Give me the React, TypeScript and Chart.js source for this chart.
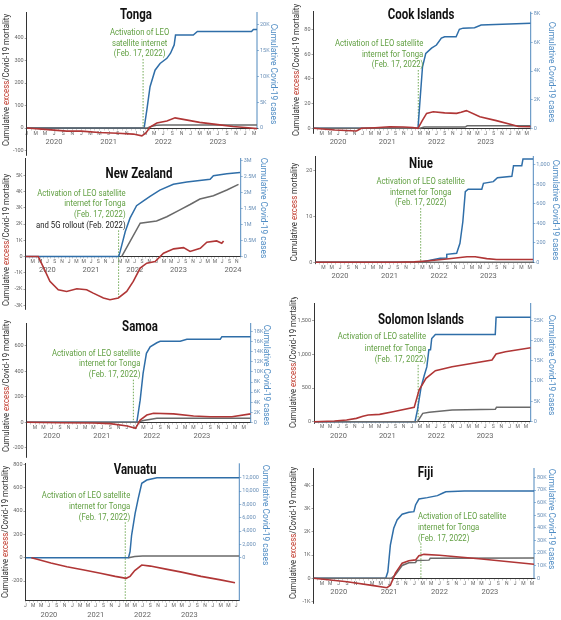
import { useEffect, useRef } from 'react'
import { Chart, registerables } from 'chart.js'

Chart.register(...registerables)
Chart.defaults.font.family = 'Roboto'

type Pt = [number, number]
type Seg = { text: string; color: string }

// month index: 0 = Jan 2020
const LEO_MONTH = 25.57 // Feb. 17, 2022
const MONTH_LETTERS = ['J', 'F', 'M', 'A', 'M', 'J', 'J', 'A', 'S', 'O', 'N', 'D']
const YEARS = ['2020', '2021', '2022', '2023', '2024']
const YEAR_MONTHS = [6, 18, 30, 42]
const YEAR_MONTHS_NZ = [6, 18, 30, 42, 57]

const NOTE_LINES = ['Activation of LEO satellite', 'internet for Tonga', '(Feb. 17, 2022)']
const NOTE_LINES_TONGA = ['Activation of LEO', 'satellite internet', '(Feb. 17, 2022)']
const NOTE_5G = 'and 5G rollout (Feb. 2022)'

// ---- Tonga
const tongaExcess: Pt[] = [[0, 0], [4, -6], [8.8, -14], [12, -14], [15.9, -20], [20, -23], [23.4, -27], [25.3, -35], [26.2, -22], [27.1, 4], [28.6, 22], [30.8, 31], [32.6, 45], [35, 36], [38, 25], [42, 15], [45.3, 7], [48, 2], [50.6, -3]]
const tongaDeaths: Pt[] = [[0, 0], [26.5, 0], [27.5, 8], [28.5, 12], [30, 13], [50.6, 13]]
const tongaCases: Pt[] = [[0, 0], [25.8, 0], [26.4, 3500], [27.1, 8000], [28.2, 11200], [29.3, 12500], [30.8, 13500], [31.6, 14500], [32.4, 16100], [32.7, 18000], [36.6, 18000], [37.5, 18700], [49.4, 18700], [49.8, 19100], [50.6, 19100]]
const tongaLeftTicks = [-100, 0, 100, 200, 300, 400]
const tongaRightTicks = [0, 5000, 10000, 15000, 20000]

// ---- Cook Islands
const cookExcess: Pt[] = [[0, 0], [5.2, -1.4], [10.5, -2.2], [11.7, 0], [15, 0.5], [18.6, 1.3], [22, 1], [24.2, 0.6], [25.5, 0], [26.5, 6], [27.6, 12.1], [29.2, 13.4], [32, 12.5], [34.9, 12.1], [36, 13], [37.3, 14.3], [40.6, 9.4], [44.6, 6.2], [48.7, 2.7], [50, 1.5], [53, 1.3]]
const cookDeaths: Pt[] = [[0, 0], [26, 0], [27, 1], [37, 1], [37.5, 2], [53, 2]]
const cookCases: Pt[] = [[0, 0], [25.5, 0], [26, 1980], [26.6, 4300], [27.4, 5240], [28.8, 5600], [30, 5820], [31.2, 6300], [32, 6400], [34.8, 6400], [35.6, 6920], [36.5, 7000], [39.3, 7030], [40.9, 7220], [53, 7340]]
const cookLeftTicks = [0, 20, 40, 60, 80]
const cookRightTicks = [0, 2000, 4000, 6000, 8000]

// ---- New Zealand
const nzExcess: Pt[] = [[0, 0], [3.5, 0], [5, -700], [6.7, -1530], [9, -2040], [11.3, -2150], [14.1, -1980], [16.8, -2040], [18.6, -2250], [21.4, -2550], [23.2, -2660], [25.5, -2550], [27.8, -2150], [29.6, -1530], [31.5, -710], [33.3, -410], [35.6, -310], [37.9, 200], [40.7, 470], [43.4, 550], [45.2, 310], [48, 510], [49.8, 880], [52.5, 960], [53.9, 820], [54.4, 960]]
const nzDeaths: Pt[] = [[26.4, 0], [31.5, 2050], [36, 2190], [38.8, 2450], [42.4, 2870], [45.2, 3200], [47.9, 3540], [51.6, 3740], [55.3, 4090], [58.5, 4440]]
const nzCases: Pt[] = [[0, 0], [25.6, 0], [26, 160000], [27.4, 780000], [28.7, 1200000], [30.5, 1590000], [32.4, 1740000], [34.2, 1880000], [36.9, 2080000], [40.6, 2260000], [44.3, 2330000], [50.7, 2420000], [51.6, 2530000], [55.3, 2590000], [58.9, 2630000]]
const nzLeftTicks = [-3000, -2000, -1000, 0, 1000, 2000, 3000, 4000, 5000]
const nzRightTicks = [0, 500000, 1000000, 1500000, 2000000, 2500000, 3000000]

// ---- Niue
const niueExcess: Pt[] = [[0, 0], [20, 0], [24, 0.1], [27, 0.3], [31.9, 0.72], [36.8, 1.2], [38.8, 1.2], [41.6, 0.8], [44, 0.6], [52.9, 0.6]]
const niueDeaths: Pt[] = [[0, 0], [52.9, 0]]
const niueCases: Pt[] = [[0, 0], [25.5, 0], [27, 13], [30.3, 41], [31.8, 45], [31.9, 82], [34.3, 92], [35.1, 195], [35.8, 416], [36.4, 724], [37.1, 749], [40.4, 749], [40.8, 810], [43.2, 827], [44.2, 868], [47.7, 882], [48.1, 991], [50.1, 991], [50.4, 1060], [52.9, 1060]]
const niueLeftTicks = [0, 10, 20]
const niueRightTicks = [0, 200, 400, 600, 800, 1000]

// ---- Samoa
const samoaExcess: Pt[] = [[0, 0], [8, -3], [16, -5], [20, -10], [24.1, -29], [26.1, -47], [27.2, 18], [28.8, 57], [30.4, 71], [35.2, 66], [40, 50], [44, 44], [49.2, 44], [53.7, 66]]
const samoaDeaths: Pt[] = [[0, 0], [26.5, 0], [28, 15], [31.2, 31], [53.7, 31]]
const samoaCases: Pt[] = [[0, 0], [26.4, 0], [27.2, 4400], [27.9, 9700], [28.7, 13700], [29.6, 15000], [31.2, 15800], [32, 16100], [36.8, 16100], [38.4, 16500], [46.4, 16500], [46.8, 17000], [53.7, 17000]]
const samoaLeftTicks = [-200, 0, 200, 400, 600]
const samoaRightTicks = [0, 2000, 4000, 6000, 8000, 10000, 12000, 14000, 16000, 18000]

// ---- Solomon Islands
const solExcess: Pt[] = [[0, 0], [5, 10], [8, 25], [10.4, 50], [12, 80], [13.3, 99], [16.1, 109], [19.4, 148], [24.6, 213], [25.8, 470], [27.5, 644], [29.8, 757], [33.9, 816], [43.7, 915], [44.7, 1004], [47, 1039], [53.2, 1098]]
const solDeaths: Pt[] = [[0, 0], [25.4, 0], [26.7, 124], [28.3, 139], [33.9, 174], [44.5, 184], [44.8, 213], [53.2, 213]]
const solCases: Pt[] = [[0, 0], [24.8, 0], [25.4, 2900], [26.3, 8600], [27.1, 11500], [27.7, 13500], [28.2, 17700], [28.6, 17700], [28.9, 20500], [29.8, 21500], [44.5, 21500], [44.7, 25700], [53.2, 25700]]
const solLeftTicks = [0, 500, 1000, 1500]
const solRightTicks = [0, 5000, 10000, 15000, 20000, 25000]

// ---- Vanuatu
const vanExcess: Pt[] = [[1.5, 0], [3, -14], [6.5, -45], [10.6, -77], [15, -106], [19.2, -134], [23, -160], [25.8, -177], [26.8, -160], [28, -110], [29.8, -63], [32, -72], [36, -98], [40, -124], [45, -160], [50, -190], [53.7, -215]]
const vanDeaths: Pt[] = [[26.4, 0], [28, 10], [30, 14], [54.8, 14]]
const vanCases: Pt[] = [[0, 0], [26.4, 0], [26.8, 900], [27.2, 3400], [28.1, 6660], [28.9, 8900], [29.8, 11160], [31.1, 11650], [33.7, 12000], [54.8, 12000]]
const vanLeftTicks = [-200, 0, 200, 400, 600, 800]
const vanRightTicks = [0, 2000, 4000, 6000, 8000, 10000, 12000]

// ---- Fiji
const fijiExcess: Pt[] = [[0, 0], [8, -150], [14.3, -320], [17.5, -410], [18.3, -300], [19.5, 220], [21.1, 650], [22.7, 750], [24.3, 790], [25.1, 970], [26.3, 1030], [30, 990], [40, 830], [52.5, 600]]
const fijiDeaths: Pt[] = [[0, 0], [18.5, 0], [19.5, 150], [21.1, 550], [22.7, 670], [24.3, 680], [24.6, 760], [27.5, 780], [27.8, 860], [52.5, 870]]
const fijiCases: Pt[] = [[0, 0], [17.2, 0], [17.7, 5200], [18.3, 26400], [19.1, 39700], [19.9, 46300], [21.1, 50800], [22.7, 52400], [23.9, 52900], [24.3, 58200], [25.1, 62900], [27.1, 64000], [29.5, 65600], [30.7, 67500], [31.5, 68700], [35.9, 69200], [52.5, 69200]]
const fijiLeftTicks = [-1000, 0, 1000, 2000, 3000, 4000]
const fijiRightTicks = [0, 10000, 20000, 30000, 40000, 50000, 60000, 70000, 80000]

const RED = '#b03636'
const RED_TEXT = '#c0392b'
const GRAY = '#6a6a6a'
const BLUE = '#2f6ea8'
const BLUE_AXIS = '#4f88bd'
const BLUE_TEXT = '#4f8cc4'
const GREEN = '#62a043'
const DARK = '#333'

const plain = (v: number) => String(v)
const comma = (v: number) => v.toLocaleString('en-US')
const kilo = (v: number) => (v === 0 ? '0' : `${v / 1000}K`)
const mega = (v: number) => (v === 0 ? '0' : `${v / 1e6}M`)

const mortalitySegs: Seg[] = [
  { text: 'Cumulative ', color: DARK },
  { text: 'excess', color: RED_TEXT },
  { text: '/Covid-19 mortality', color: DARK }
]
const excessSegs: Seg[] = [
  { text: 'Cumulative ', color: DARK },
  { text: 'excess', color: RED_TEXT },
  { text: ' mortality', color: DARK }
]

interface Note {
  lines: string[]
  extra?: string
  align: CanvasTextAlign
  dx: number
  y: number
  lh: number
}

interface Panel {
  name: string
  box: [number, number, number, number]
  area: [number, number, number, number]
  xMax: number
  yRange: [number, number]
  y2Range: [number, number]
  leftTicks: number[]
  rightTicks: number[]
  leftFmt: (v: number) => string
  rightFmt: (v: number) => string
  excess: Pt[]
  deaths: Pt[]
  cases: Pt[]
  firstLabel: number
  yearAt: number[]
  axisAt: number
  dashEnd: number
  fullRight: boolean
  title: [number, number]
  leftTitle: [number, number]
  rightTitle: [number, number]
  leftSegs: Seg[]
  note: Note
}

const panels: Panel[] = [
  {
    name: 'Tonga', box: [0, 0, 280, 162], area: [26.7, 12, 257, 155],
    xMax: 50.6, yRange: [-120, 515.6], y2Range: [-5230, 22480],
    leftTicks: tongaLeftTicks, rightTicks: tongaRightTicks, leftFmt: plain, rightFmt: kilo,
    excess: tongaExcess, deaths: tongaDeaths, cases: tongaCases,
    firstLabel: 0, yearAt: YEAR_MONTHS, axisAt: 0, dashEnd: 0, fullRight: false,
    title: [136, 15], leftTitle: [6.5, 80], rightTitle: [273, 74], leftSegs: mortalitySegs,
    note: { lines: NOTE_LINES_TONGA, align: 'center', dx: -3.5, y: 33, lh: 10.5 }
  },
  {
    name: 'Cook Islands', box: [280, 0, 281, 150], area: [313.5, 11.7, 530.7, 133],
    xMax: 53, yRange: [-3.8, 94.4], y2Range: [-330, 8150],
    leftTicks: cookLeftTicks, rightTicks: cookRightTicks, leftFmt: plain, rightFmt: kilo,
    excess: cookExcess, deaths: cookDeaths, cases: cookCases,
    firstLabel: 2, yearAt: YEAR_MONTHS, axisAt: 0, dashEnd: 0, fullRight: false,
    title: [421, 15], leftTitle: [296.5, 70], rightTitle: [551, 72], leftSegs: mortalitySegs,
    note: { lines: NOTE_LINES, align: 'right', dx: 5, y: 44, lh: 10.5 }
  },
  {
    name: 'New Zealand', box: [0, 152, 280, 162], area: [25.5, 158, 240.7, 310],
    xMax: 59.1, yRange: [-3270, 6060], y2Range: [-1666000, 3084000],
    leftTicks: nzLeftTicks, rightTicks: nzRightTicks, leftFmt: kilo, rightFmt: mega,
    excess: nzExcess, deaths: nzDeaths, cases: nzCases,
    firstLabel: 2, yearAt: YEAR_MONTHS_NZ, axisAt: 0, dashEnd: -2500, fullRight: false,
    title: [139, 174], leftTitle: [6.5, 240], rightTitle: [263.5, 208], leftSegs: mortalitySegs,
    note: { lines: NOTE_LINES, extra: NOTE_5G, align: 'right', dx: 7, y: 193.3, lh: 10.7 }
  },
  {
    name: 'Niue', box: [280, 150, 281, 135], area: [315.3, 156, 533.3, 263.5],
    xMax: 52.9, yRange: [-0.26, 23.2], y2Range: [-12, 1090],
    leftTicks: niueLeftTicks, rightTicks: niueRightTicks, leftFmt: plain, rightFmt: comma,
    excess: niueExcess, deaths: niueDeaths, cases: niueCases,
    firstLabel: 2, yearAt: YEAR_MONTHS, axisAt: 0, dashEnd: 0, fullRight: false,
    title: [421, 164.5], leftTitle: [295, 212], rightTitle: [555, 210], leftSegs: excessSegs,
    note: { lines: NOTE_LINES, align: 'center', dx: 0, y: 181.7, lh: 10.7 }
  },
  {
    name: 'Samoa', box: [0, 316, 280, 146], area: [26.7, 323, 250.7, 457],
    xMax: 53.7, yRange: [-272, 779], y2Range: [-6890, 19720],
    leftTicks: samoaLeftTicks, rightTicks: samoaRightTicks, leftFmt: plain, rightFmt: kilo,
    excess: samoaExcess, deaths: samoaDeaths, cases: samoaCases,
    firstLabel: 2, yearAt: YEAR_MONTHS, axisAt: 0, dashEnd: 0, fullRight: false,
    title: [140, 327], leftTitle: [6.5, 386], rightTitle: [266.5, 375], leftSegs: mortalitySegs,
    note: { lines: NOTE_LINES, align: 'right', dx: 7, y: 353.3, lh: 10.7 }
  },
  {
    name: 'Solomon Islands', box: [280, 297, 281, 148], area: [314, 303, 530.7, 423],
    xMax: 53.2, yRange: [-19, 1761], y2Range: [-320, 29240],
    leftTicks: solLeftTicks, rightTicks: solRightTicks, leftFmt: comma, rightFmt: kilo,
    excess: solExcess, deaths: solDeaths, cases: solCases,
    firstLabel: 2, yearAt: YEAR_MONTHS, axisAt: 0, dashEnd: 0, fullRight: false,
    title: [421, 320], leftTitle: [293.5, 362], rightTitle: [551.5, 365], leftSegs: mortalitySegs,
    note: { lines: NOTE_LINES, align: 'right', dx: 8, y: 336.7, lh: 11.6 }
  },
  {
    name: 'Vanuatu', box: [0, 457, 280, 163], area: [25.5, 463.3, 239.3, 600.7],
    xMax: 54.8, yRange: [-369, 810], y2Range: [-6450, 14163],
    leftTicks: vanLeftTicks, rightTicks: vanRightTicks, leftFmt: plain, rightFmt: comma,
    excess: vanExcess, deaths: vanDeaths, cases: vanCases,
    firstLabel: 0, yearAt: YEAR_MONTHS, axisAt: -369, dashEnd: -369, fullRight: true,
    title: [135, 470], leftTitle: [6, 532], rightTitle: [265, 515], leftSegs: mortalitySegs,
    note: { lines: NOTE_LINES, align: 'right', dx: 5, y: 495.7, lh: 10.8 }
  },
  {
    name: 'Fiji', box: [280, 460, 281, 160], area: [313.5, 468, 534, 603.3],
    xMax: 52.5, yRange: [-1080, 4750], y2Range: [-19800, 87500],
    leftTicks: fijiLeftTicks, rightTicks: fijiRightTicks, leftFmt: kilo, rightFmt: kilo,
    excess: fijiExcess, deaths: fijiDeaths, cases: fijiCases,
    firstLabel: 2, yearAt: YEAR_MONTHS, axisAt: 0, dashEnd: 0, fullRight: false,
    title: [425.5, 473], leftTitle: [293.5, 533], rightTitle: [551.5, 519], leftSegs: mortalitySegs,
    note: { lines: NOTE_LINES, align: 'left', dx: -3, y: 516.7, lh: 10.8 }
  }
]

const toXY = (pts: Pt[]) => pts.map(([x, y]) => ({ x, y }))

function drawText(ctx: CanvasRenderingContext2D, text: string, x: number, y: number, font: string, color: string, align: CanvasTextAlign, sx: number) {
  ctx.save()
  ctx.translate(x, y)
  ctx.scale(sx, 1)
  ctx.font = font
  ctx.fillStyle = color
  ctx.textAlign = align
  ctx.textBaseline = 'middle'
  ctx.fillText(text, 0, 0)
  ctx.restore()
}

function drawRotated(ctx: CanvasRenderingContext2D, segs: Seg[], x: number, y: number, angle: number, font: string, sx: number) {
  ctx.save()
  ctx.translate(x, y)
  ctx.rotate(angle)
  ctx.scale(sx, 1)
  ctx.font = font
  ctx.textBaseline = 'middle'
  ctx.textAlign = 'left'
  const total = segs.reduce((s, g) => s + ctx.measureText(g.text).width, 0)
  let cur = -total / 2
  for (const g of segs) {
    ctx.fillStyle = g.color
    ctx.fillText(g.text, cur, 0)
    cur += ctx.measureText(g.text).width
  }
  ctx.restore()
}

function decor(p: Panel) {
  const [cx, cy] = p.box
  return {
    id: 'panelDecor',
    beforeDatasetsDraw(chart: Chart) {
      const { ctx, chartArea } = chart
      const xs = chart.scales.x
      const ys = chart.scales.y
      ctx.save()
      ctx.strokeStyle = BLUE_AXIS
      ctx.lineWidth = 1
      ctx.beginPath()
      ctx.moveTo(chartArea.right, chartArea.top)
      ctx.lineTo(chartArea.right, p.fullRight ? chartArea.bottom : ys.getPixelForValue(0))
      ctx.stroke()

      const lx = xs.getPixelForValue(LEO_MONTH)
      const count = p.note.lines.length + (p.note.extra ? 1 : 0)
      const lastY = p.note.y - cy + p.note.lh * (count - 1)
      ctx.strokeStyle = GREEN
      ctx.lineWidth = 0.9
      ctx.setLineDash([1.5, 1.5])
      ctx.beginPath()
      ctx.moveTo(lx, lastY + 5)
      ctx.lineTo(lx, ys.getPixelForValue(p.dashEnd))
      ctx.stroke()
      ctx.restore()
    },
    afterDraw(chart: Chart) {
      const ctx = chart.ctx
      const lx = chart.scales.x.getPixelForValue(LEO_MONTH)
      drawText(ctx, p.name, p.title[0] - cx, p.title[1] - cy, 'bold 14px Roboto', '#111', 'center', 0.82)
      const nx = lx + p.note.dx
      p.note.lines.forEach((line, i) => {
        drawText(ctx, line, nx, p.note.y - cy + i * p.note.lh, '9px Roboto', GREEN, p.note.align, 0.86)
      })
      if (p.note.extra) {
        drawText(ctx, p.note.extra, nx, p.note.y - cy + p.note.lines.length * p.note.lh, '9px Roboto', '#222', p.note.align, 0.86)
      }
      drawRotated(ctx, p.leftSegs, p.leftTitle[0] - cx, p.leftTitle[1] - cy, -Math.PI / 2, '9px Roboto', 0.87)
      drawRotated(ctx, [{ text: 'Cumulative Covid-19 cases', color: BLUE_TEXT }], p.rightTitle[0] - cx, p.rightTitle[1] - cy, Math.PI / 2, '9px Roboto', 0.93)
    }
  }
}

function PanelChart({ p }: { p: Panel }) {
  const ref = useRef<HTMLCanvasElement>(null)

  useEffect(() => {
    if (!ref.current) return
    const [cx, cy, cw, ch] = p.box
    const [L, T, R, B] = p.area
    const leftW = L - cx
    const rightW = cx + cw - R
    const months = Array.from({ length: Math.floor(p.xMax) + 1 }, (_, i) => i)

    const chart = new Chart(ref.current, {
      type: 'line',
      data: {
        datasets: [
          { data: toXY(p.excess), borderColor: RED, borderWidth: 1.6, yAxisID: 'y' },
          { data: toXY(p.deaths), borderColor: GRAY, borderWidth: 1.5, yAxisID: 'y' },
          { data: toXY(p.cases), borderColor: BLUE, borderWidth: 1.5, yAxisID: 'y2' }
        ]
      },
      options: {
        animation: false,
        responsive: false,
        events: [],
        layout: { padding: { top: T - cy, bottom: cy + ch - B, left: 0, right: 0 } },
        elements: { point: { radius: 0 }, line: { tension: 0 } },
        plugins: { legend: { display: false }, tooltip: { enabled: false } },
        scales: {
          x: {
            type: 'linear',
            min: 0,
            max: p.xMax,
            position: { y: p.axisAt },
            afterBuildTicks: (s: any) => { s.ticks = months.map(v => ({ value: v })) },
            afterFit: (s: any) => { s.height = 0 },
            ticks: {
              autoSkip: false,
              maxRotation: 0,
              padding: 1,
              color: '#666',
              font: { size: 5 },
              callback: (v: any) => (v % 2 === 0 && v >= p.firstLabel ? MONTH_LETTERS[v % 12] : '')
            },
            grid: { display: true, drawOnChartArea: false, drawTicks: true, tickLength: 1.5, color: '#999', lineWidth: 0.5 },
            border: { display: true, color: DARK, width: 1 }
          },
          x2: {
            type: 'linear',
            axis: 'x',
            min: 0,
            max: p.xMax,
            position: { y: p.axisAt },
            afterBuildTicks: (s: any) => { s.ticks = p.yearAt.map(v => ({ value: v })) },
            afterFit: (s: any) => { s.height = 0 },
            ticks: {
              autoSkip: false,
              maxRotation: 0,
              padding: 9.5,
              color: '#666',
              font: { size: 7.5 },
              callback: (_v: any, i: number) => YEARS[i]
            },
            grid: { display: false, drawTicks: false },
            border: { display: false }
          },
          y: {
            type: 'linear',
            position: 'left',
            min: p.yRange[0],
            max: p.yRange[1],
            afterBuildTicks: (s: any) => { s.ticks = p.leftTicks.map(v => ({ value: v })) },
            afterFit: (s: any) => { s.width = leftW },
            ticks: { padding: 1, color: '#666', font: { size: 5.5 }, callback: (v: any) => p.leftFmt(v) },
            grid: { drawOnChartArea: false, drawTicks: true, tickLength: 2, color: '#666', lineWidth: 0.6 },
            border: { display: true, color: DARK, width: 1 }
          },
          y2: {
            type: 'linear',
            position: 'right',
            min: p.y2Range[0],
            max: p.y2Range[1],
            afterBuildTicks: (s: any) => { s.ticks = p.rightTicks.map(v => ({ value: v })) },
            afterFit: (s: any) => { s.width = rightW },
            ticks: { padding: 1, color: '#6a90b8', font: { size: 5.5 }, callback: (v: any) => p.rightFmt(v) },
            grid: { drawOnChartArea: false, drawTicks: true, tickLength: 2, color: BLUE_AXIS, lineWidth: 0.6 },
            border: { display: false }
          }
        }
      } as any,
      plugins: [decor(p)]
    })

    return () => chart.destroy()
  }, [p])

  return (
    <canvas
      ref={ref}
      width={p.box[2]}
      height={p.box[3]}
      style={{ position: 'absolute', left: p.box[0], top: p.box[1], width: p.box[2], height: p.box[3] }}
    />
  )
}

export default function App() {
  return (
    <div style={{ position: 'absolute', left: 0, top: 0, width: 561, height: 620, background: '#fff', overflow: 'hidden' }}>
      {panels.map(p => (
        <PanelChart key={p.name} p={p} />
      ))}
    </div>
  )
}
